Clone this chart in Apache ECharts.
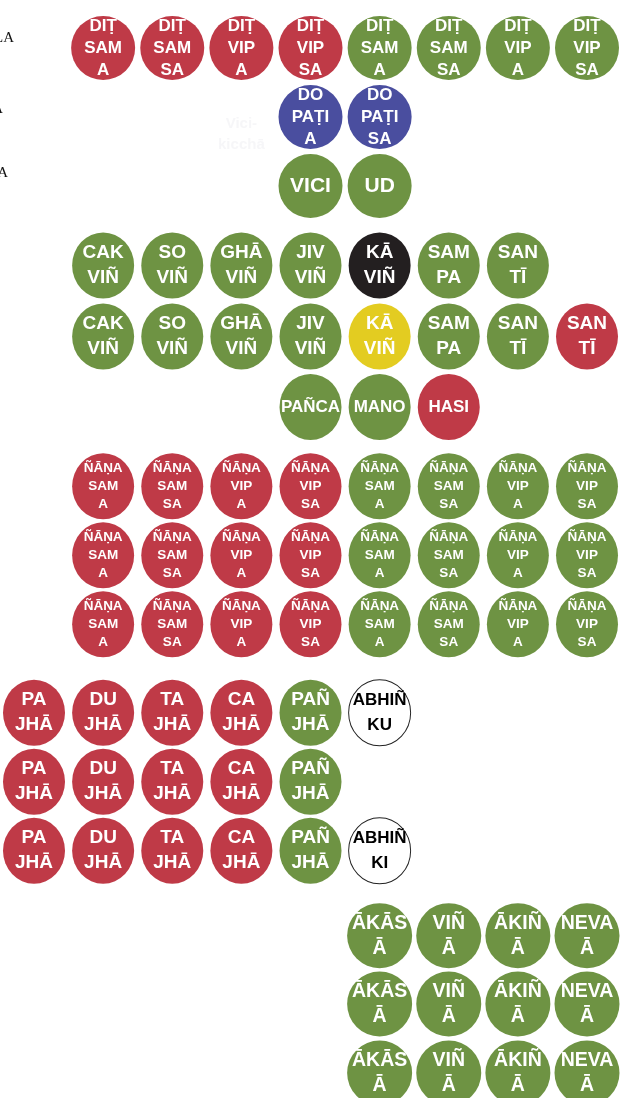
<!DOCTYPE html>
<html>
<head>
<meta charset="utf-8">
<script src="https://cdn.jsdelivr.net/npm/echarts@6/dist/echarts.min.js"></script>
<style>
  html, body { margin: 0; padding: 0; background: #fff; }
  #chart { width: 629px; height: 1098px; }
</style>
</head>
<body>
<div id="chart"></div>
<script>
// row levels (grouped rows, with small gaps between blocks)
const rowLevels = [0, 1, 2, 3.15, 4.18, 5.2, 6.35, 7.35, 8.35, 9.63, 10.63, 11.63, 12.86, 13.85, 14.85];
const colCount = 9;

// each entry: [column, row, label, colour key]
const ditLabels = ['DIṬ\nSAM\nA', 'DIṬ\nSAM\nSA', 'DIṬ\nVIP\nA', 'DIṬ\nVIP\nSA'];
const dopLabels = ['DO\nPAṬI\nA', 'DO\nPAṬI\nSA'];
const viciLabels = ['VICI', 'UD'];
const vinLabels = ['CAK\nVIÑ', 'SO\nVIÑ', 'GHĀ\nVIÑ', 'JIV\nVIÑ', 'KĀ\nVIÑ', 'SAM\nPA', 'SAN\nTĪ'];
const vinColoursA = ['g', 'g', 'g', 'g', 'k', 'g', 'g'];
const vinColoursB = ['g', 'g', 'g', 'g', 'y', 'g', 'g', 'r'];
const pancaLabels = ['PAÑCA', 'MANO', 'HASI'];
const pancaColours = ['g', 'g', 'r'];
const nanaLabels = ['ÑĀṆA\nSAM\nA', 'ÑĀṆA\nSAM\nSA', 'ÑĀṆA\nVIP\nA', 'ÑĀṆA\nVIP\nSA'];
const jhanaLabels = ['PA\nJHĀ', 'DU\nJHĀ', 'TA\nJHĀ', 'CA\nJHĀ', 'PAÑ\nJHĀ'];
const jhanaColours = ['r', 'r', 'r', 'r', 'g'];
const abhinLabels = ['ABHIÑ\nKU', null, 'ABHIÑ\nKI'];
const arupaLabels = ['ĀKĀS\nĀ', 'VIÑ\nĀ', 'ĀKIÑ\nĀ', 'NEVA\nĀ'];
const ghostLabel = 'Vici-\nkicchā';
const sideLabels = ['LA', 'A', 'A'];

const cells = [];
ditLabels.forEach((t, i) => cells.push([1 + i, 0, t, 'r']));
ditLabels.forEach((t, i) => cells.push([5 + i, 0, t, 'g']));
dopLabels.forEach((t, i) => cells.push([4 + i, 1, t, 'b']));
viciLabels.forEach((t, i) => cells.push([4 + i, 2, t, 'g']));
vinLabels.forEach((t, i) => cells.push([1 + i, 3, t, vinColoursA[i]]));
vinLabels.concat(['SAN\nTĪ']).forEach((t, i) => cells.push([1 + i, 4, t, vinColoursB[i]]));
pancaLabels.forEach((t, i) => cells.push([4 + i, 5, t, pancaColours[i]]));
[6, 7, 8].forEach(r => {
  nanaLabels.forEach((t, i) => cells.push([1 + i, r, t, 'r']));
  nanaLabels.forEach((t, i) => cells.push([5 + i, r, t, 'g']));
});
[9, 10, 11].forEach((r, k) => {
  jhanaLabels.forEach((t, i) => cells.push([i, r, t, jhanaColours[i]]));
  if (abhinLabels[k]) cells.push([5, r, abhinLabels[k], 'w']);
});
[12, 13, 14].forEach(r => {
  arupaLabels.forEach((t, i) => cells.push([5 + i, r, t, 'g']));
});

const palette = {
  r: '#bf3a47', g: '#6e9343', b: '#4a4e9f', k: '#231f20', y: '#e3cc21', w: '#ffffff'
};
const FONT = "'Liberation Sans', Arial, sans-serif";

function rowStyle(r) {
  if (r <= 1) return { fontSize: 17, lineHeight: 22, size: 64 };
  if (r === 2) return { fontSize: 21, lineHeight: 24, size: 64 };
  if (r <= 4) return { fontSize: 19, lineHeight: 25, size: [62, 66] };
  if (r === 5) return { fontSize: 17, lineHeight: 25, size: [62, 66] };
  if (r <= 8) return { fontSize: 13.5, lineHeight: 18, size: [62, 66] };
  if (r <= 11) return { fontSize: 19, lineHeight: 25, size: [62, 66] };
  return { fontSize: 19.5, lineHeight: 25, size: 65 };
}

const data = cells.map(([c, r, t, k]) => {
  const s = rowStyle(r);
  const white = k === 'w';
  return {
    value: [c, rowLevels[r]],
    name: t,
    symbolSize: s.size,
    itemStyle: {
      color: palette[k],
      opacity: 1,
      borderColor: white ? '#222' : palette[k],
      borderWidth: white ? 1 : 0
    },
    label: {
      fontSize: white ? 17 : s.fontSize,
      lineHeight: s.lineHeight,
      color: white ? '#000' : '#fff'
    }
  };
});

const chart = echarts.init(document.getElementById('chart'));
chart.setOption({
  backgroundColor: '#fff',
  animation: false,
  grid: { left: 34, right: 42, top: 48, bottom: 25 },
  xAxis: { type: 'value', min: 0, max: colCount - 1, show: false },
  yAxis: { type: 'value', min: 0, max: rowLevels[rowLevels.length - 1], inverse: true, show: false },
  series: [
    {
      type: 'scatter',
      symbol: 'circle',
      data: [{ value: [3, rowLevels[1]], name: ghostLabel }],
      symbolSize: 1,
      itemStyle: { color: 'rgba(0,0,0,0)' },
      label: {
        show: true,
        formatter: p => p.name,
        offset: [0, 17],
        color: '#f4f4f6',
        fontFamily: FONT,
        fontWeight: 'bold',
        fontSize: 15,
        lineHeight: 21
      },
      silent: true
    },
    {
      type: 'scatter',
      symbol: 'circle',
      data: data,
      label: {
        show: true,
        position: 'inside',
        formatter: p => p.name,
        fontFamily: FONT,
        fontWeight: 'bold'
      },
      silent: true
    }
  ],
  graphic: [
    { type: 'text', right: 615, top: 31, style: { text: sideLabels[0], font: "15px 'Liberation Serif', serif", fill: '#111' } },
    { type: 'text', right: 626, top: 102, style: { text: sideLabels[1], font: "15px 'Liberation Serif', serif", fill: '#111' } },
    { type: 'text', right: 621, top: 166, style: { text: sideLabels[2], font: "15px 'Liberation Serif', serif", fill: '#111' } }
  ]
});
</script>
</body>
</html>
